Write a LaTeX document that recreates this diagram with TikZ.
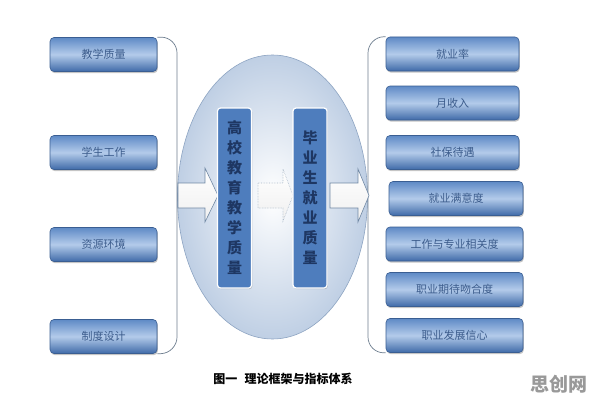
\documentclass[tikz,border=0pt]{standalone}
\usepackage{fontspec}
\newfontfamily\cjk{Noto Sans CJK SC}
\usetikzlibrary{shadows,shapes.geometric}
\definecolor{boxtop}{HTML}{5F8AC6}
\definecolor{boxmid}{HTML}{B3CBEA}
\definecolor{boxbot}{HTML}{3F6AA8}
\definecolor{boxline}{HTML}{3A5E92}
\definecolor{boxtext}{HTML}{3C5C8C}
\definecolor{vfill}{HTML}{4E7DBD}
\definecolor{vtext}{HTML}{1E3763}
\definecolor{ellout}{HTML}{BFCFE4}
\definecolor{elline}{HTML}{8DA4C2}
\definecolor{brk}{HTML}{6F7F90}
\definecolor{arrline}{HTML}{7088A4}
\tikzset{
  itembox/.style={rectangle, rounded corners=4pt, draw=boxline, line width=0.6pt,
    top color=boxtop, bottom color=boxbot, middle color=boxmid,
    minimum height=34pt, inner sep=0pt, font=\cjk\fontsize{11}{13}\selectfont, text=boxtext,
    drop shadow={shadow xshift=0.8pt, shadow yshift=-1.6pt, opacity=0.45}},
  vbox/.style={rectangle, rounded corners=3pt, fill=vfill, draw=white, line width=1.2pt,
    minimum width=34pt, inner sep=0pt, align=center, text=vtext,
    font=\cjk\bfseries\fontsize{15}{20}\selectfont,
    drop shadow={shadow xshift=0.8pt, shadow yshift=-1.2pt, opacity=0.35}},
  blockarrow/.style={draw=arrline, line width=0.6pt, top color=white, bottom color=white!88!gray},
  bracket/.style={draw=brk, line width=0.7pt, rounded corners=16pt}
}
\begin{document}
\begin{tikzpicture}[x=1pt,y=-1pt]
\useasboundingbox (0,0) rectangle (596,404);
\fill[white] (0,0) rectangle (596,404);
% ellipse
\node[ellipse, minimum width=190pt, minimum height=284pt, inner color=white, outer color=ellout,
  draw=elline, line width=0.6pt, inner sep=0pt] (E) at (272.5,197) {};
% left items
\node[itembox, minimum width=107pt] (L1) at (103.5,54.5) {教学质量};
\node[itembox, minimum width=107pt] (L2) at (103.5,152.5) {学生工作};
\node[itembox, minimum width=107pt] (L3) at (103.5,244.5) {资源环境};
\node[itembox, minimum width=107pt] (L4) at (103.5,336.5) {制度设计};
% right items
\node[itembox, minimum width=133pt] (R1) at (452.5,54) {就业率};
\node[itembox, minimum width=133pt] (R2) at (452.5,103) {月收入};
\node[itembox, minimum width=133pt] (R3) at (452.5,152.5) {社保待遇};
\node[itembox, minimum width=134pt] (R4) at (456,198.5) {就业满意度};
\node[itembox, minimum width=137pt] (R5) at (454.5,244) {工作与专业相关度};
\node[itembox, minimum width=137pt] (R6) at (454.5,289.5) {职业期待吻合度};
\node[itembox, minimum width=137pt] (R7) at (454.5,335.5) {职业发展信心};
% brackets
\coordinate (lbt) at (177,37);
\coordinate (lbb) at (177,353);
\draw[bracket] (L1.north east) -- (lbt) -- (lbb) -- (L4.south east);
\coordinate (rbt) at (368,37);
\coordinate (rbb) at (368,353);
\draw[bracket] (R1.north west) -- (rbt) -- (rbb) -- (R7.south west);
% block arrows
\path[blockarrow] (178,183) -- (205,183) -- (205,168) -- (218,195.5) -- (205,222) -- (205,208) -- (178,208) -- cycle;
\path[blockarrow, draw=arrline!60, densely dotted] (258,183) -- (283,183) -- (283,169) -- (293,195.5) -- (283,221) -- (283,208) -- (258,208) -- cycle;
\path[blockarrow] (330,183) -- (358,183) -- (358,169) -- (369,195.5) -- (358,222) -- (358,208) -- (330,208) -- cycle;
% vertical boxes
\node[vbox, minimum height=180pt] (A) at (234.5,198) {高\\校\\教\\育\\教\\学\\质\\量};
\node[vbox, minimum height=180pt] (B) at (310,198) {毕\\业\\生\\就\\业\\质\\量};
% caption
\node[font=\cjk\bfseries\fontsize{12}{14}\selectfont, text=black] (cap) at (283,379) {图一\hspace{0.6em}理论框架与指标体系};
\node[font=\cjk\bfseries\fontsize{19}{21}\selectfont, text=black!40] (wm) at (559,384) {思创网};
\end{tikzpicture}
\end{document}
